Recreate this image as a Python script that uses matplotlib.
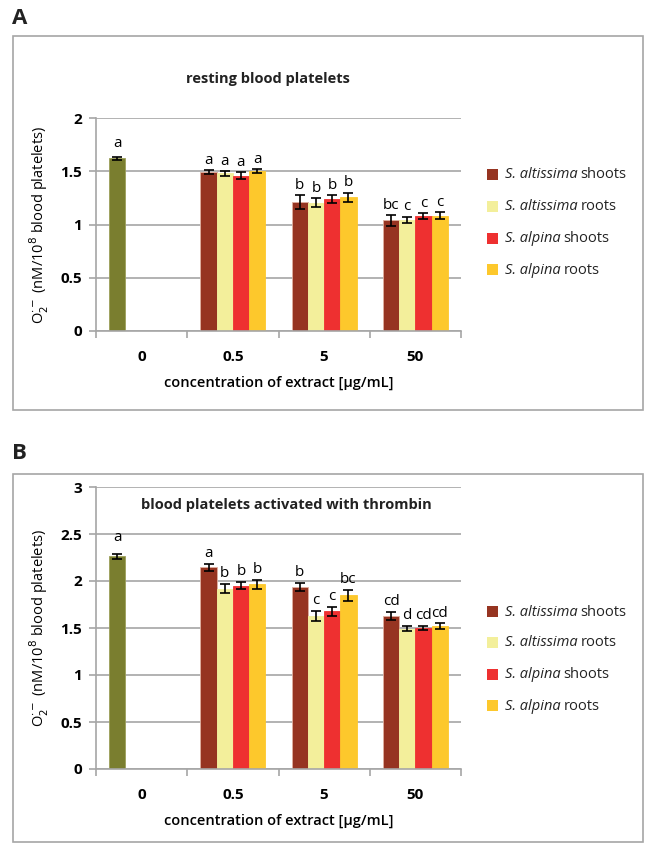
import matplotlib
matplotlib.use("Agg")
import matplotlib.pyplot as plt
from matplotlib.patches import Rectangle
import numpy as np

plt.rcParams['font.family'] = ['Open Sans', 'DejaVu Sans']

categories = ["0", "0.5", "5", "50"]
series_names = ["S. altissima shoots", "S. altissima roots", "S. alpina shoots", "S. alpina roots"]
series_colors = ["#963421", "#F3EF9B", "#EE3030", "#FDC82C"]
control_color = "#7A7E2F"

# Panel A: resting blood platelets
ctrl_A = 1.62
ctrl_A_err = 0.01
ctrl_A_lab = "a"
vals_A = [[1.49, 1.21, 1.04],
          [1.48, 1.205, 1.045],
          [1.46, 1.24, 1.077],
          [1.50, 1.255, 1.08]]
errs_A = [[0.02, 0.066, 0.05],
          [0.025, 0.045, 0.03],
          [0.03, 0.036, 0.03],
          [0.02, 0.045, 0.033]]
labs_A = [["a", "b", "bc"],
          ["a", "b", "c"],
          ["a", "b", "c"],
          ["a", "b", "c"]]

# Panel B: activated with thrombin
ctrl_B = 2.263
ctrl_B_err = 0.025
ctrl_B_lab = "a"
vals_B = [[2.145, 1.936, 1.63],
          [1.92, 1.63, 1.493],
          [1.95, 1.678, 1.503],
          [1.965, 1.848, 1.518]]
errs_B = [[0.034, 0.044, 0.04],
          [0.05, 0.053, 0.027],
          [0.04, 0.05, 0.023],
          [0.05, 0.058, 0.03]]
labs_B = [["a", "b", "cd"],
          ["b", "c", "d"],
          ["b", "c", "cd"],
          ["b", "bc", "cd"]]

W, H = 646, 843
fig = plt.figure(figsize=(W / 100, H / 100), dpi=100)

def fx(px):
    return px / W

def fy(py):
    return 1 - py / H

grid_c = "#A6A6A6"
box_c = "#A6A6A6"
bw = 0.178

def panel(top_px, bot_px, ymax, ctrl, ctrl_err, ctrl_lab, vals, errs, labs,
          title, title_y_px, box_top, box_bot, letter, letter_y, leg_rows):
    # outer box
    fig.patches.append(Rectangle((fx(13), fy(box_bot)), fx(643) - fx(13), fy(box_top) - fy(box_bot),
                                 transform=fig.transFigure, fill=False, edgecolor=box_c, lw=1.2))
    fig.text(fx(12), fy(letter_y), letter, fontsize=16, fontweight='bold', va='center', ha='left',
             color='#222222')
    ax = fig.add_axes([fx(96), fy(bot_px), fx(461) - fx(96), fy(top_px) - fy(bot_px)])
    ax.set_xlim(-0.5, 3.5)
    ax.set_ylim(0, ymax)
    ax.set_yticks(np.arange(0, ymax + 0.01, 0.5))
    ax.set_yticklabels([f"{v:g}" for v in np.arange(0, ymax + 0.01, 0.5)],
                       fontsize=11, fontweight='bold')
    ax.yaxis.grid(True, color=grid_c, lw=1.2)
    ax.set_axisbelow(True)
    for s in ['top', 'right']:
        ax.spines[s].set_visible(False)
    for s in ['left', 'bottom']:
        ax.spines[s].set_color(grid_c)
        ax.spines[s].set_linewidth(1.2)
    ax.set_xticks(np.arange(-0.5, 3.6, 1.0))
    ax.set_xticklabels([])
    ax.tick_params(axis='x', which='major', length=5, color=grid_c, width=1.2)
    ax.tick_params(axis='y', length=5, color=grid_c, width=1.2, pad=5)
    ax.set_xticks(np.arange(4), minor=True)
    ax.set_xticklabels(categories, minor=True, fontsize=11, fontweight='bold')
    ax.tick_params(axis='x', which='minor', length=0, pad=14)
    ax.set_xlabel("concentration of extract [µg/mL]", fontsize=10.5, fontweight='semibold', labelpad=8)
    ax.set_ylabel(r"O$_2^{\cdot-}$ (nM/10$^8$ blood platelets)", fontsize=10.5, labelpad=7)
    off = (np.arange(4) - 1.5) * bw
    # control bar
    cx = 0 + off[0]
    ax.bar(cx, ctrl, width=bw, color=control_color, edgecolor='#9CA05A', lw=0.6)
    ax.errorbar(cx, ctrl, yerr=ctrl_err, fmt='none', ecolor='black', elinewidth=1.2, capsize=3.8, capthick=1.2)
    ax.text(cx, ctrl + ctrl_err + ymax * 0.03, ctrl_lab, ha='center', va='bottom', fontsize=11)
    xs = np.arange(1, 4)
    for i in range(4):
        x = xs + off[i]
        ax.bar(x, vals[i], width=bw, color=series_colors[i], edgecolor='#E0B0A0' if i == 0 else series_colors[i],
               lw=0.6, label=series_names[i])
        ax.errorbar(x, vals[i], yerr=errs[i], fmt='none', ecolor='black', elinewidth=1.2, capsize=3.8, capthick=1.2)
        for j in range(3):
            ax.text(x[j], vals[i][j] + errs[i][j] + ymax * 0.01, labs[i][j], ha='center', va='bottom',
                    fontsize=11)
    fig.text(fx(title_y_px[0]), fy(title_y_px[1]), title, ha='center', va='center', fontsize=10.5,
             fontweight='bold', color='#222222')
    # legend
    for i, y in enumerate(leg_rows):
        fig.patches.append(Rectangle((fx(487), fy(y + 5)), fx(11), fy(0) - fy(11),
                                     transform=fig.transFigure, facecolor=series_colors[i],
                                     edgecolor='none'))
        genus, organ = series_names[i].rsplit(" ", 1)
        t = fig.text(fx(505), fy(y), genus, fontsize=10.5, style='italic', va='center', ha='left',
                     color='#222222')
        fig.canvas.draw()
        bb = t.get_window_extent()
        fig.text(bb.x1 / W + fx(3), fy(y), organ, fontsize=10.5, va='center', ha='left', color='#222222')
    return ax

panel(118, 331, 2, ctrl_A, ctrl_A_err, ctrl_A_lab, vals_A, errs_A, labs_A,
      "resting blood platelets", (268, 79), 36, 410, "A", 18, [175, 207, 239, 270])
panel(487, 769, 3, ctrl_B, ctrl_B_err, ctrl_B_lab, vals_B, errs_B, labs_B,
      "blood platelets activated with thrombin", (286, 505), 474, 842, "B", 453, [612, 643, 675, 706])

fig.savefig("out.png", dpi=100)
